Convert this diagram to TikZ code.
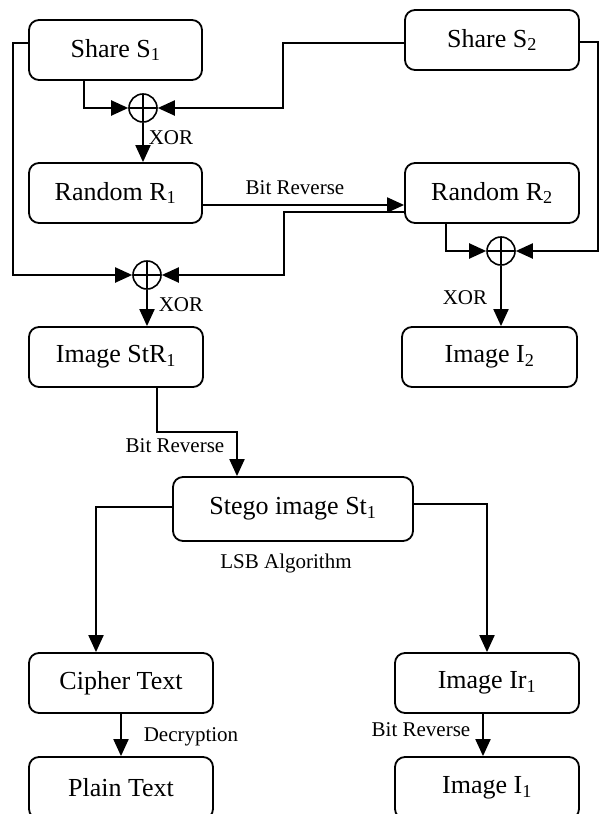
\documentclass[tikz,border=0pt]{standalone}
\usepackage{fontspec}
\setmainfont{Liberation Serif}
\usetikzlibrary{arrows.meta}
\begin{document}
\begin{tikzpicture}[x=1pt,y=-1pt,
  box/.style={draw,line width=1.8pt,rounded corners=10pt,inner sep=0pt,
    font=\fontsize{26}{30}\selectfont},
  xorc/.style={draw,circle,line width=1.6pt,minimum size=28pt,inner sep=0pt,
    path picture={\draw[line width=1.6pt] (path picture bounding box.north) -- (path picture bounding box.south)
      (path picture bounding box.west) -- (path picture bounding box.east);}},
  lbl/.style={inner sep=0pt,font=\fontsize{21}{24}\selectfont},
  arr/.style={line width=2pt,-{Triangle[length=17pt,width=15pt]}},
  ln/.style={line width=2pt}]
\useasboundingbox (0,0) rectangle (600,814);
\clip (0,0) rectangle (600,814);
% boxes
\node[box,minimum width=173pt,minimum height=60pt] (S1) at (115.5,50) {Share S\textsubscript{1}};
\node[box,minimum width=174pt,minimum height=60pt] (S2) at (492,40) {Share S\textsubscript{2}};
\node[box,minimum width=173pt,minimum height=60pt] (R1) at (115.5,193) {Random R\textsubscript{1}};
\node[box,minimum width=174pt,minimum height=60pt] (R2) at (492,193) {Random R\textsubscript{2}};
\node[box,minimum width=174pt,minimum height=60pt] (StR1) at (116,357) {Image StR\textsubscript{1}};
\node[box,minimum width=175pt,minimum height=60pt] (I2) at (489.5,357) {Image I\textsubscript{2}};
\node[box,minimum width=240pt,minimum height=64pt] (Stego) at (293,509) {Stego image St\textsubscript{1}};
\node[box,minimum width=184pt,minimum height=60pt] (Cipher) at (121,683) {Cipher Text};
\node[box,minimum width=184pt,minimum height=60pt] (Ir1) at (487,683) {Image Ir\textsubscript{1}};
\node[box,minimum width=184pt,minimum height=62pt] (Plain) at (121,788) {Plain Text};
\node[box,minimum width=184pt,minimum height=62pt] (I1) at (487,788) {Image I\textsubscript{1}};
% xor circles
\node[xorc] (x1) at (143,108) {};
\node[xorc] (x2) at (147,275) {};
\node[xorc] (x3) at (501,251) {};
% connectors
\draw[arr] ([xshift=-32pt]S1.south) |- (x1);
\draw[arr] ([yshift=-3pt]S2.west) -| (283,80) |- (x1);
\draw[arr] (x1) -- (x1 |- R1.north);
\draw[arr] ([yshift=-12pt]R1.east) -- ([yshift=-12pt]R1.east -| R2.west);
\draw[arr] ([yshift=-19pt]R2.west) -| (284,250) |- (x2);
\draw[arr] ([yshift=7pt]S1.west) -| (13,150) |- (x2);
\draw[arr] (x2) -- (x2 |- StR1.north);
\draw[arr] ([xshift=-46pt]R2.south) |- (x3);
\draw[arr] ([yshift=-2pt]S2.east) -| (598,150) |- (x3);
\draw[arr] (x3) -- (x3 |- I2.north);
\draw[arr] ([xshift=41pt]StR1.south) -- ++(0,44) -| ([xshift=-56pt]Stego.north);
\draw[arr] ([yshift=2pt]Stego.west) -| ([xshift=-25pt]Cipher.north);
\draw[arr] ([yshift=5pt]Stego.east) -| (Ir1.north);
\draw[arr] (Cipher.south) -- (Plain.north);
\draw[arr] ([xshift=-4pt]Ir1.south) -- ([xshift=-4pt]I1.north);
% labels
\node[lbl] (l1) at (171,138) {XOR};
\node[lbl] (l2) at (181,305) {XOR};
\node[lbl] (l3) at (465,298) {XOR};
\node[lbl] (l4) at (295,188) {Bit Reverse};
\node[lbl] (l5) at (175,446) {Bit Reverse};
\node[lbl] (l6) at (286,563) {LSB Algorithm};
\node[lbl] (l7) at (191,737) {Decryption};
\node[lbl] (l8) at (421,730) {Bit Reverse};
\end{tikzpicture}
\end{document}
